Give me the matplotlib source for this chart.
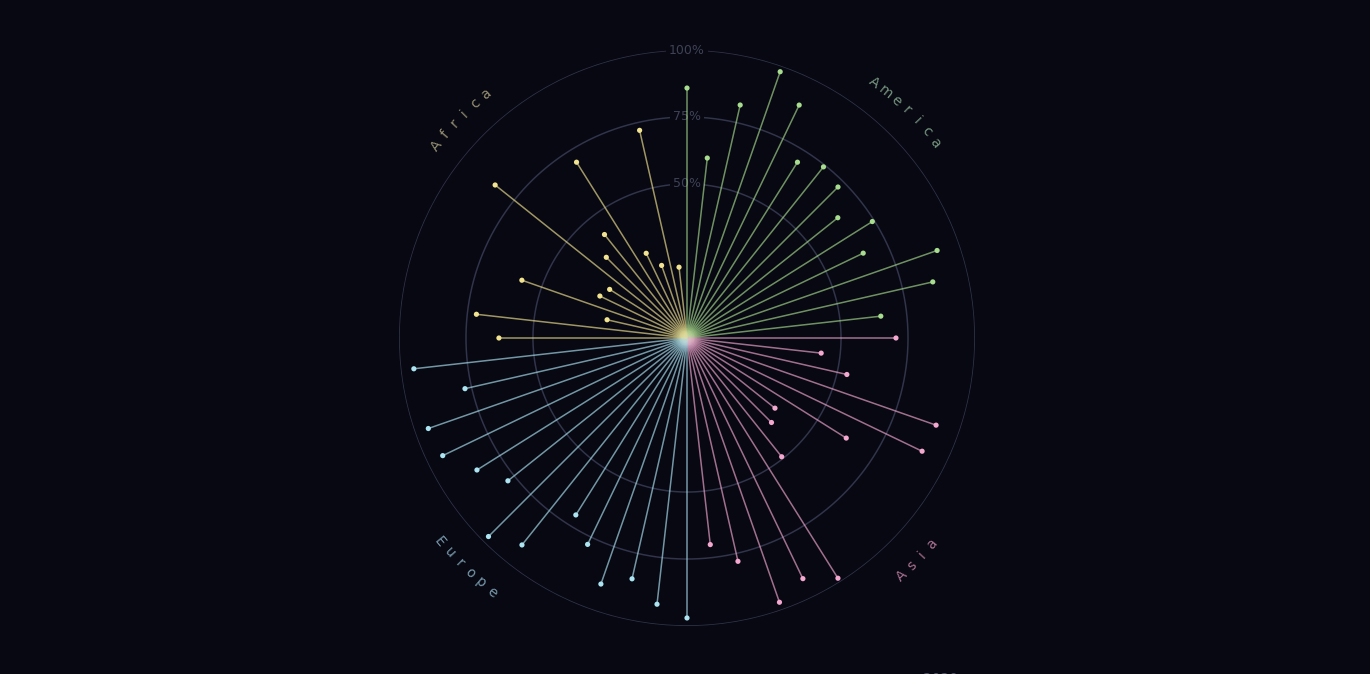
import numpy as np
import matplotlib
matplotlib.use("Agg")
import matplotlib.pyplot as plt

# values (percent), clockwise from the top
regions = ["America", "Asia", "Europe", "Africa"]
america = [85.8, 60.1, 81.7, 97.8, 89.0, 70.0, 74.2, 72.2, 64.5, 74.2, 65.5, 91.4, 86.6, 65.3]
asia = [70.5, 42.9, 53.7, 91.0, 89.9, 62.7, 34.5, 37.1, 49.2, 98.4, 92.2, 97.0, 78.0, 70.1]
europe = [97.0, 92.5, 84.7, 89.8, 78.0, 70.5, 91.3, 97.3, 78.0, 85.1, 93.7, 94.8, 77.5, 95.1]
africa = [62.7, 71.6, 23.1, 57.8, 28.6, 26.6, 84.1, 35.1, 41.9, 70.0, 27.6, 21.2, 72.0, 19.1]
grid_levels = [50, 75, 100]
grid_labels = ["50%", "75%", "100%"]
year_label = "2020"

colors = {"America": "#a8dc8e", "Asia": "#f4a8d0", "Europe": "#ace4f2", "Africa": "#f2e391"}
label_colors = {"America": "#76937f", "Asia": "#a8708f", "Europe": "#7898aa", "Africa": "#958f73"}
bg = "#070812"
rmin = -7.5

values = {"America": america, "Asia": asia, "Europe": europe, "Africa": africa}
n_total = sum(len(values[r]) for r in regions)
step = 2 * np.pi / n_total

fig = plt.figure(figsize=(13.7, 6.74), dpi=100, facecolor=bg)
ax = fig.add_axes([399 / 1370, 48 / 674, 576 / 1370, 576 / 674], projection="polar")
ax.set_facecolor(bg)
ax.set_theta_zero_location("N")
ax.set_theta_direction(-1)
ax.set_ylim(rmin, 100)
ax.grid(False)
ax.spines["polar"].set_visible(False)
ax.set_xticks([])
ax.set_yticks([])

# grid circles with labels on top
full = np.linspace(0, 2 * np.pi, 400)
for lev, lab in zip(grid_levels, grid_labels):
    ax.plot(full, np.full_like(full, lev), color="#31344a", lw=1.1, zorder=1)
    ax.text(0, lev, lab, color="#3f4256", fontsize=9, ha="center", va="center",
            bbox=dict(boxstyle="square,pad=0.25", fc=bg, ec="none"), zorder=2)

# spokes
i = 0
for reg in regions:
    for v in values[reg]:
        th = i * step
        ax.plot([th, th], [rmin, v], color=colors[reg], lw=1.1, alpha=0.65,
                solid_capstyle="butt", zorder=3)
        ax.scatter([th], [v], s=14, color=colors[reg], edgecolors="none", zorder=4)
        i += 1

# soft glow at the centre
for k, reg in enumerate(regions):
    th = (k * 14 + 7) * step
    for s, a in [(260, 0.06), (120, 0.1), (40, 0.18)]:
        ax.scatter([th], [rmin + 1.5], s=s, color=colors[reg], alpha=a,
                   edgecolors="none", zorder=5)

# curved region labels
label_pos = {"America": (44, 110.5, True), "Asia": (134, 112.0, False),
             "Europe": (224, 112.0, False), "Africa": (314, 110.5, True)}
letter_step = 2.6
for reg in regions:
    centre, rad, top = label_pos[reg]
    n = len(reg)
    for k, ch in enumerate(reg):
        off = (k - (n - 1) / 2) * letter_step
        if top:
            ang = centre + off
            rot = -ang
        else:
            ang = centre - off
            rot = 180 - ang
        ax.text(np.radians(ang), rad, ch, color=label_colors[reg], fontsize=10,
                rotation=rot, rotation_mode="anchor", ha="center", va="center",
                clip_on=False)

fig.text(940 / 1370, 2 / 674, year_label, color="#55586a", fontsize=10,
         ha="center", va="top")

fig.savefig("out.png", dpi=100, facecolor=bg)
